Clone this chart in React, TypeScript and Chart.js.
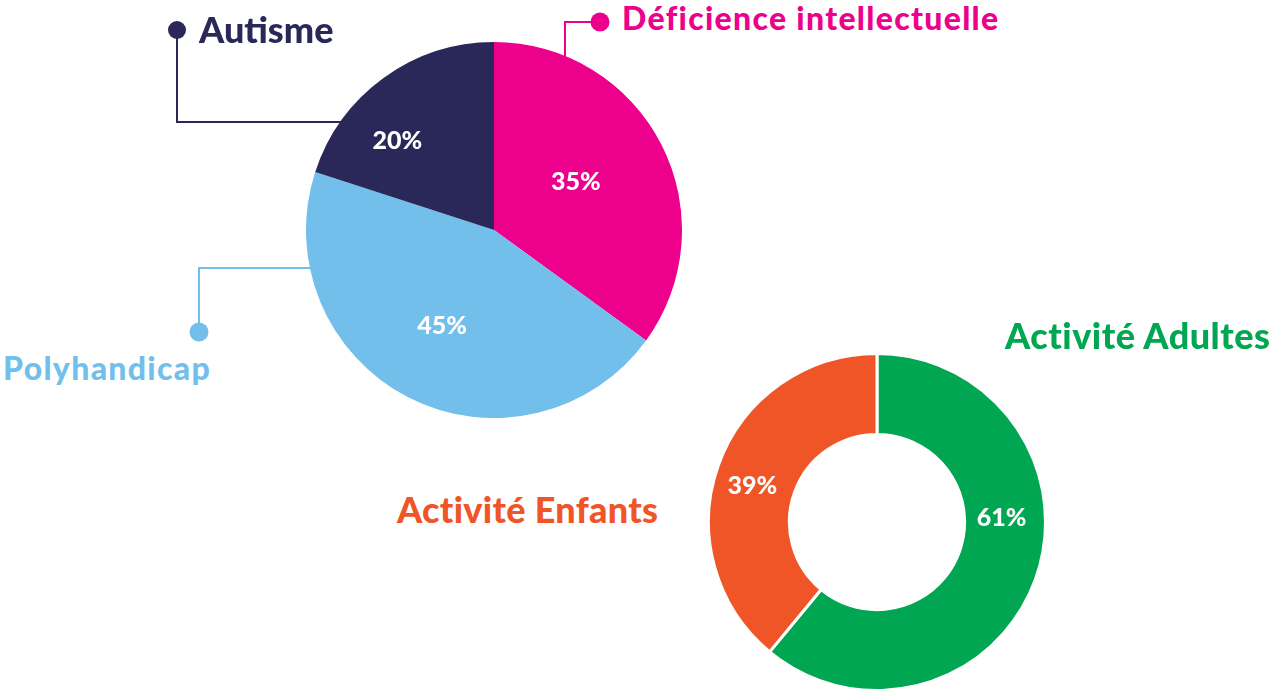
import React, { useEffect, useRef } from "react";
import { Chart, registerables } from "chart.js";

Chart.register(...registerables);

// ---- Data ----
const pieLabels = ["Déficience intellectuelle", "Polyhandicap", "Autisme"];
const pieValues = [35, 45, 20];
const pieColors = ["#EC008C", "#72BFEB", "#2A2859"];

const donutLabels = ["Activité Adultes", "Activité Enfants"];
const donutValues = [61, 39];
const donutColors = ["#00A651", "#F05527"];

// label placement tweaks (radius fraction, angle offset in degrees)
const pieLabelRadius = [0.505, 0.58, 0.7];
const pieLabelAngle = [-3.4, 1.4, -11.2];
const donutLabelRadius = [0.74, 0.77];
const donutLabelAngle = [-21.8, -3.6];

const FONT = "Lato, 'Open Sans', sans-serif";

const pctPlugin = {
  id: "pctLabels",
  afterDatasetsDraw(chart: any, _args: any, opts: any) {
    const ctx = chart.ctx;
    const meta = chart.getDatasetMeta(0);
    const values = chart.data.datasets[0].data as number[];
    ctx.save();
    ctx.fillStyle = "#ffffff";
    ctx.font = `900 ${opts.size || 23}px ${FONT}`;
    ctx.textAlign = "center";
    ctx.textBaseline = "middle";
    meta.data.forEach((arc: any, i: number) => {
      const p = arc.getProps(["x", "y", "startAngle", "endAngle", "outerRadius"], true);
      const mid = (p.startAngle + p.endAngle) / 2 + ((opts.angle[i] || 0) * Math.PI) / 180;
      const r = p.outerRadius * opts.radius[i];
      ctx.fillText(values[i] + "%", p.x + Math.cos(mid) * r, p.y + Math.sin(mid) * r);
    });
    ctx.restore();
  },
};

function PieChart() {
  const ref = useRef<HTMLCanvasElement>(null);
  useEffect(() => {
    const chart = new Chart(ref.current!, {
      type: "pie",
      data: {
        labels: pieLabels,
        datasets: [{ data: pieValues, backgroundColor: pieColors, borderWidth: 0 }],
      },
      options: {
        responsive: false,
        animation: false,
        layout: { padding: 0 },
        plugins: {
          legend: { display: false },
          tooltip: { enabled: false },
          pctLabels: { radius: pieLabelRadius, angle: pieLabelAngle, size: 25 },
        } as any,
      },
      plugins: [pctPlugin],
    });
    return () => chart.destroy();
  }, []);
  return (
    <canvas
      ref={ref}
      width={376}
      height={376}
      style={{ position: "absolute", left: 306, top: 42, width: 376, height: 376 }}
    />
  );
}

function DonutChart() {
  const ref = useRef<HTMLCanvasElement>(null);
  useEffect(() => {
    const chart = new Chart(ref.current!, {
      type: "doughnut",
      data: {
        labels: donutLabels,
        datasets: [
          { data: donutValues, backgroundColor: donutColors, borderWidth: 3, borderColor: "#ffffff" },
        ],
      },
      options: {
        responsive: false,
        animation: false,
        cutout: "52%",
        layout: { padding: 0 },
        plugins: {
          legend: { display: false },
          tooltip: { enabled: false },
          pctLabels: { radius: donutLabelRadius, angle: donutLabelAngle, size: 25 },
        } as any,
      },
      plugins: [pctPlugin],
    });
    return () => chart.destroy();
  }, []);
  return (
    <canvas
      ref={ref}
      width={340}
      height={340}
      style={{ position: "absolute", left: 707, top: 352, width: 340, height: 340 }}
    />
  );
}

function Label(props: {
  text: string;
  left: number;
  top: number;
  size: number;
  color: string;
  spacing?: number;
}) {
  return (
    <div
      style={{
        position: "absolute",
        left: props.left,
        top: props.top,
        fontFamily: FONT,
        fontWeight: 900,
        fontSize: props.size,
        lineHeight: 1,
        letterSpacing: props.spacing || 0,
        color: props.color,
        whiteSpace: "nowrap",
      }}
    >
      {props.text}
    </div>
  );
}

export default function App() {
  return (
    <div
      style={{
        position: "absolute",
        left: 0,
        top: 0,
        width: 1271,
        height: 690,
        overflow: "hidden",
        background: "#ffffff",
      }}
    >
      <svg width={1271} height={690} style={{ position: "absolute", left: 0, top: 0 }}>
        <polyline points="177,30 177,122 342,122" fill="none" stroke={pieColors[2]} strokeWidth={2} />
        <circle cx={177} cy={30} r={9} fill={pieColors[2]} />
        <polyline points="600,22 565,22 565,58" fill="none" stroke={pieColors[0]} strokeWidth={2} />
        <circle cx={600} cy={22} r={9.5} fill={pieColors[0]} />
        <polyline points="199,332 199,268 312,268" fill="none" stroke={pieColors[1]} strokeWidth={2} />
        <circle cx={199} cy={332} r={9.5} fill={pieColors[1]} />
      </svg>
      <PieChart />
      <DonutChart />
      <Label text={pieLabels[2]} left={199} top={11} size={36} color={pieColors[2]} />
      <Label text={pieLabels[0]} left={622} top={2} size={32} spacing={1.3} color={pieColors[0]} />
      <Label text={pieLabels[1]} left={3} top={352} size={32} spacing={1.3} color={pieColors[1]} />
      <Label text={donutLabels[0]} left={1005} top={317} size={36} spacing={0.5} color={donutColors[0]} />
      <Label text={donutLabels[1]} left={397} top={491} size={36} spacing={0.3} color={donutColors[1]} />
    </div>
  );
}
